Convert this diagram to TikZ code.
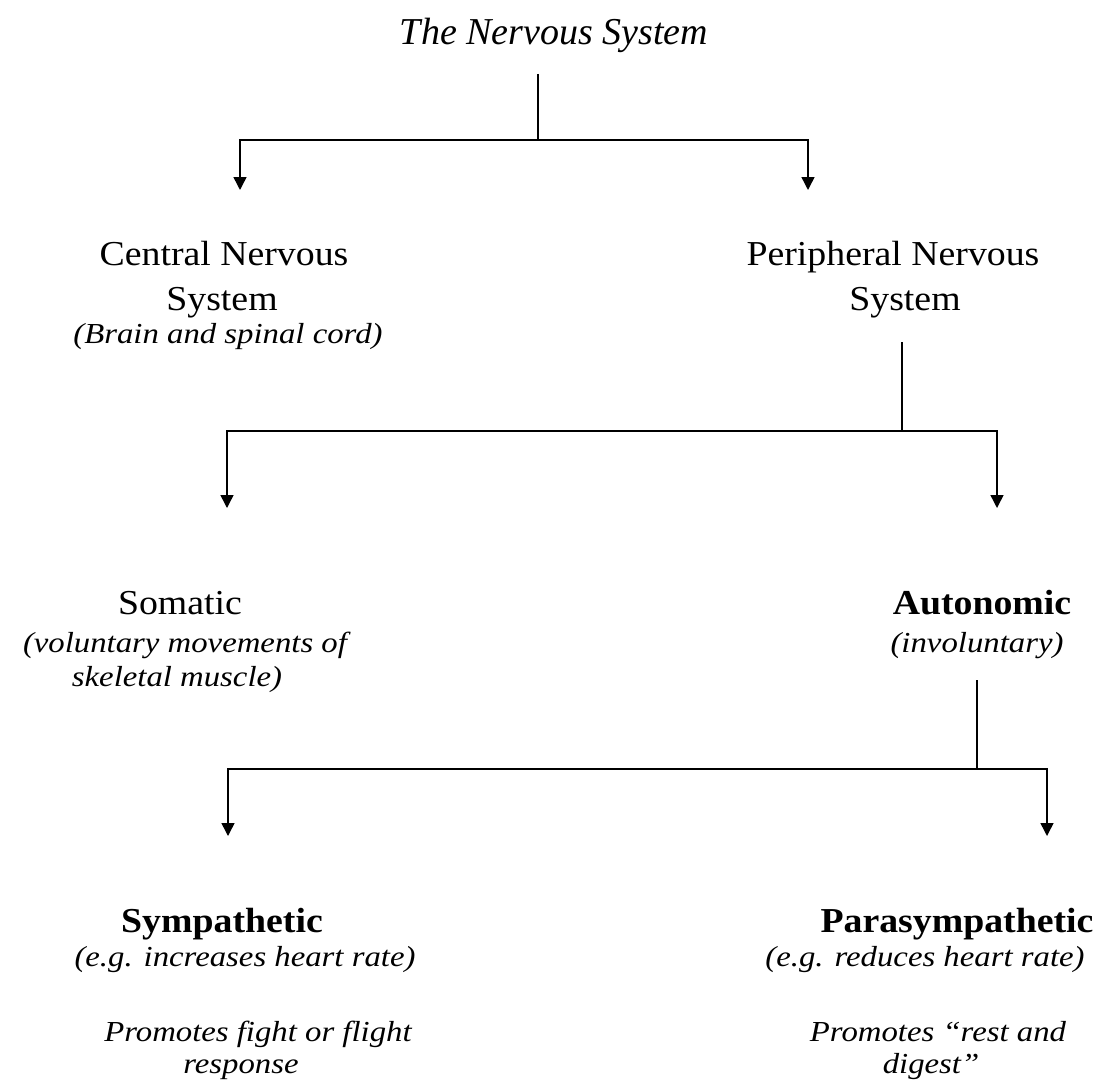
\documentclass[tikz,border=0pt]{standalone}
\usepackage{fontspec}
\setmainfont{Liberation Serif}
\newfontfamily\headfont[FakeStretch=1.08]{Liberation Serif}
\newfontfamily\notefont[FakeStretch=1.13]{Liberation Serif}
\usetikzlibrary{arrows.meta}
\tikzset{
  titletxt/.style={anchor=base, inner sep=0pt, font=\itshape\fontsize{38}{44}\selectfont},
  headtxt/.style={anchor=base, inner sep=0pt, font=\headfont\fontsize{35}{40}\selectfont},
  boldtxt/.style={anchor=base, inner sep=0pt, font=\headfont\bfseries\fontsize{35}{40}\selectfont},
  notetxt/.style={anchor=base, inner sep=0pt, font=\notefont\itshape\fontsize{29}{34}\selectfont},
  branch/.style={line width=1.5pt, black},
  drop/.style={branch, -{Triangle[width=13pt,length=13pt]}},
}
\begin{document}
\begin{tikzpicture}[x=1pt, y=-1pt]
  \useasboundingbox (0,0) rectangle (1097,1089);

  % Title
  \node[titletxt] (ns) at (554,45) {The Nervous System};

  % Central and peripheral
  \node[headtxt] (cnsA) at (224,265) {Central Nervous};
  \node[headtxt] (cnsB) at (222,310) {System};
  \node[notetxt] (cnsnote) at (228,343) {(Brain and spinal cord)};
  \node[headtxt] (pnsA) at (893,265) {Peripheral Nervous};
  \node[headtxt] (pnsB) at (905,310) {System};

  % Somatic and autonomic
  \node[headtxt] (som) at (180,614) {Somatic};
  \node[notetxt] (somA) at (185,652) {(voluntary movements of};
  \node[notetxt] (somB) at (177,686) {skeletal muscle)};
  \node[boldtxt] (aut) at (982,614) {Autonomic};
  \node[notetxt] (autnote) at (977,652) {(involuntary)};

  % Sympathetic and parasympathetic
  \node[boldtxt] (sym) at (222,932) {Sympathetic};
  \node[notetxt] (symA) at (245,966) {(e.g. increases heart rate)};
  \node[notetxt] (symB) at (258,1041) {Promotes fight or flight};
  \node[notetxt] (symC) at (241,1073) {response};
  \node[boldtxt] (par) at (957,932) {Parasympathetic};
  \node[notetxt] (parA) at (925,966) {(e.g. reduces heart rate)};
  \node[notetxt] (parB) at (938,1041) {Promotes “rest and};
  \node[notetxt] (parC) at (931,1073) {digest”};

  % Branch points
  \coordinate (top1) at (538,74);
  \coordinate (fork1) at (538,140);
  \coordinate (cnsin) at (240,190);
  \coordinate (pnsin) at (808,190);
  \coordinate (top2) at (902,342);
  \coordinate (fork2) at (902,431);
  \coordinate (somin) at (227,508);
  \coordinate (autin) at (997,508);
  \coordinate (top3) at (977,680);
  \coordinate (fork3) at (977,769);
  \coordinate (symin) at (228,836);
  \coordinate (parin) at (1047,836);

  % Connectors
  \draw[branch] (top1) -- (fork1);
  \draw[drop] (fork1) -| (cnsin);
  \draw[drop] (fork1) -| (pnsin);
  \draw[branch] (top2) -- (fork2);
  \draw[drop] (fork2) -| (somin);
  \draw[drop] (fork2) -| (autin);
  \draw[branch] (top3) -- (fork3);
  \draw[drop] (fork3) -| (symin);
  \draw[drop] (fork3) -| (parin);
\end{tikzpicture}
\end{document}
